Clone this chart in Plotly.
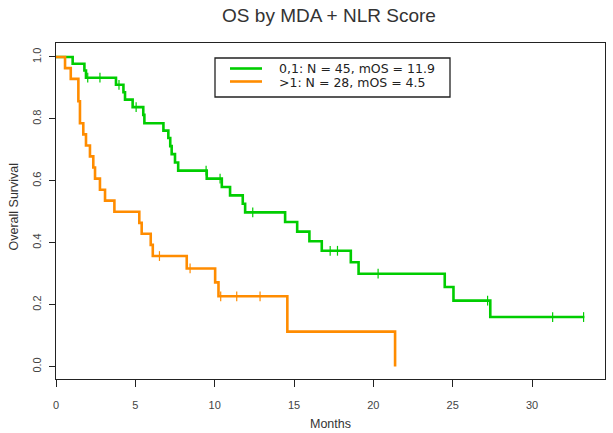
import plotly.graph_objects as go

# ---------------- data ----------------
title_text = "OS by MDA + NLR Score"
x_label = "Months"
y_label = "Overall Survival"
legend_labels = ["0,1: N = 45, mOS = 11.9", ">1: N = 28, mOS = 4.5"]

x_ticks = [0, 5, 10, 15, 20, 25, 30]
y_ticks = [0.0, 0.2, 0.4, 0.6, 0.8, 1.0]

# group "0,1" (green): step times and survival after each step
green_t = [0, 1.05, 1.79, 1.89, 3.78, 4.25, 4.35, 4.83, 5.50, 5.57, 6.77, 7.08,
           7.20, 7.29, 7.50, 7.70, 9.50, 10.45, 10.97, 11.77, 11.92, 14.44,
           15.20, 15.97, 16.75, 18.58, 19.07, 24.50, 25.05, 27.37, 33.30]
green_s = [1.0, 0.978, 0.956, 0.933, 0.910, 0.886, 0.862, 0.838, 0.813, 0.786,
           0.762, 0.738, 0.712, 0.686, 0.659, 0.633, 0.607, 0.580, 0.553, 0.526,
           0.498, 0.467, 0.436, 0.405, 0.374, 0.337, 0.300, 0.257, 0.213, 0.160,
           0.160]
green_cens_t = [2.0, 2.77, 3.97, 5.05, 9.46, 10.34, 12.40, 17.28, 17.74, 20.30,
                27.20, 31.30, 33.25]
green_cens_s = [0.933, 0.933, 0.910, 0.838, 0.633, 0.607, 0.498, 0.374, 0.374,
                0.300, 0.213, 0.160, 0.160]

# group ">1" (orange)
orange_t = [0, 0.57, 0.93, 1.41, 1.51, 1.72, 1.89, 2.14, 2.35, 2.46, 2.77, 3.09,
            3.68, 5.25, 5.40, 5.97, 6.10, 8.24, 10.03, 10.24, 14.58, 21.37]
orange_s = [1.0, 0.964, 0.929, 0.857, 0.786, 0.750, 0.714, 0.679, 0.643, 0.607,
            0.571, 0.536, 0.500, 0.464, 0.429, 0.393, 0.357, 0.317, 0.272, 0.227,
            0.113, 0.0]
orange_cens_t = [6.52, 8.45, 10.38, 11.39, 12.86]
orange_cens_s = [0.357, 0.317, 0.227, 0.227, 0.227]

green_color = "#00CD00"
orange_color = "#FF8C00"

# ---------------- layout geometry (pixels) ----------------
W, H = 613, 433
L, R, T, B = 56, 605, 43, 379   # plot box edges


def px_x(px):
    return (px - L) / (R - L)


def px_y(py):
    return (B - py) / (B - T)


FONT = "Liberation Sans, Arial, sans-serif"
LEG_FONT = "DejaVu Sans, sans-serif"

fig = go.Figure()

for t, s, ct, cs, col in [(green_t, green_s, green_cens_t, green_cens_s, green_color),
                          (orange_t, orange_s, orange_cens_t, orange_cens_s, orange_color)]:
    fig.add_trace(go.Scatter(x=t, y=s, mode="lines", line=dict(color=col, width=2.6, shape="hv"),
                             showlegend=False, hoverinfo="skip"))
    fig.add_trace(go.Scatter(x=ct, y=cs, mode="markers",
                             marker=dict(symbol="line-ns", size=7,
                                         line=dict(color=col, width=1.2)),
                             showlegend=False, hoverinfo="skip"))

# custom legend (R style)
shapes = [dict(type="rect", xref="paper", yref="paper",
               x0=px_x(215), x1=px_x(450), y0=px_y(58), y1=px_y(97),
               line=dict(color="#222", width=1.3), fillcolor="white", layer="below")]
annotations = []
for i, (lab, col) in enumerate(zip(legend_labels, [green_color, orange_color])):
    yy = 68.5 + 13 * i
    shapes.append(dict(type="line", xref="paper", yref="paper",
                       x0=px_x(230), x1=px_x(262), y0=px_y(yy), y1=px_y(yy),
                       line=dict(color=col, width=2.6)))
    annotations.append(dict(xref="paper", yref="paper", x=px_x(277), y=px_y(yy + 0.5),
                            text=lab, showarrow=False, xanchor="left", yanchor="middle",
                            height=13, valign="middle",
                            font=dict(family=LEG_FONT, size=12.5, color="#222")))

# axis titles
annotations.append(dict(xref="paper", yref="paper", x=px_x(330), y=px_y(424),
                        text=x_label, showarrow=False, xanchor="center", yanchor="middle",
                        font=dict(family=FONT, size=12.5, color="#333")))
annotations.append(dict(xref="paper", yref="paper", x=px_x(13.5), y=px_y(207),
                        text=y_label, showarrow=False, textangle=-90,
                        xanchor="center", yanchor="middle",
                        font=dict(family=FONT, size=12.5, color="#333")))

fig.update_layout(
    width=W, height=H,
    margin=dict(l=L, r=W - R, t=T, b=H - B, pad=0),
    paper_bgcolor="white", plot_bgcolor="white",
    title=dict(text=title_text, x=329 / W, xref="container", xanchor="center",
               y=1 - 15 / H, yref="container", yanchor="middle",
               font=dict(family=FONT, size=19, color="#333")),
    shapes=shapes, annotations=annotations,
    showlegend=False,
)

fig.update_xaxes(range=[0, 34.6], tickvals=x_ticks, ticktext=[str(v) for v in x_ticks],
                 ticks="outside", ticklen=7, tickwidth=1, tickcolor="#222",
                 showline=True, linecolor="#222", linewidth=1.2, mirror=True,
                 showgrid=False, zeroline=False, ticklabelstandoff=9,
                 tickfont=dict(family=FONT, size=11, color="#444"))
fig.update_yaxes(range=[-0.04, 1.045], tickvals=y_ticks,
                 ticktext=["%.1f" % v for v in y_ticks], tickangle=-90,
                 ticks="outside", ticklen=6, tickwidth=1, tickcolor="#222",
                 showline=True, linecolor="#222", linewidth=1.2, mirror=True,
                 showgrid=False, zeroline=False, ticklabelstandoff=3,
                 tickfont=dict(family=FONT, size=11, color="#444"))

# remove the default 8px body margin so the figure sits at the page's top-left corner
fig.write_html("out.html", config={"displayModeBar": False, "staticPlot": True},
               post_script="document.body.style.margin='0';")
